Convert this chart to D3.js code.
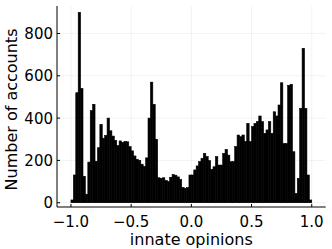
<!DOCTYPE html>
<html>
<head>
<meta charset="utf-8">
<script src="https://cdnjs.cloudflare.com/ajax/libs/d3/7.8.5/d3.min.js"></script>
<style>
body { margin: 0; background: #fff; }
text { font-family: "DejaVu Sans", sans-serif; fill: #000; }
</style>
</head>
<body>
<svg id="chart" width="332" height="249"></svg>
<script>
// histogram counts, 100 bins of width 0.02 from -1 to 1
var counts = [
	13, 131, 520, 900, 540, 125, 40, 192, 435, 465,
	196, 260, 370, 305, 318, 400, 340, 315, 295, 270,
	292, 285, 290, 288, 265, 245, 221, 205, 200, 182,
	172, 212, 400, 570, 465, 300, 118, 115, 118, 105,
	100, 120, 133, 130, 122, 110, 72, 68, 72, 131,
	131, 155, 174, 194, 210, 233, 218, 199, 158, 170,
	218, 178, 178, 233, 252, 225, 194, 194, 265, 320,
	312, 320, 289, 375, 289, 360, 375, 383, 410, 383,
	328, 344, 383, 328, 430, 410, 462, 567, 280, 280,
	555, 560, 241, 44, 115, 446, 730, 446, 131, 13
];
var binStart = -1.0;
var binWidth = 0.02;
var xTicks = [-1.0, -0.5, 0.0, 0.5, 1.0];
var yTicks = [0, 200, 400, 600, 800];
var xLabel = 'innate opinions';
var yLabel = 'Number of accounts';

var svg = d3.select('#chart');
// plot area (note: "top" is a read-only global, so use pl/pr/pt/pb)
var pl = 57, pr = 325.7, pt = 6, pb = 207;

var x = d3.scaleLinear().domain([-1.116, 1.116]).range([pl, pr]);
var y = d3.scaleLinear().domain([-20.3, 930]).range([pb, pt]);
var fmt = d3.format('.1f');

// grid
var grid = svg.append('g').attr('stroke', '#000').attr('stroke-opacity', 0.1).attr('stroke-width', 0.5);
grid.selectAll('.gx').data(xTicks).enter().append('line')
	.attr('x1', function(d){ return x(d); }).attr('x2', function(d){ return x(d); })
	.attr('y1', pt).attr('y2', pb);
grid.selectAll('.gy').data(yTicks).enter().append('line')
	.attr('x1', pl).attr('x2', pr)
	.attr('y1', function(d){ return y(d); }).attr('y2', function(d){ return y(d); });

// bars
svg.append('g').selectAll('rect').data(counts).enter().append('rect')
	.attr('x', function(d, i){ return x(binStart + i * binWidth); })
	.attr('width', function(d, i){ return x(binStart + (i + 1) * binWidth) - x(binStart + i * binWidth); })
	.attr('y', function(d){ return y(d); })
	.attr('height', function(d){ return y(0) - y(d); })
	.attr('fill', '#000')
	.attr('stroke', '#000')
	.attr('stroke-width', 0.6);

// axes
svg.append('line').attr('x1', pl).attr('x2', pr).attr('y1', pb).attr('y2', pb)
	.attr('stroke', '#000').attr('stroke-width', 1);
svg.append('line').attr('x1', pl).attr('x2', pl).attr('y1', pt).attr('y2', pb)
	.attr('stroke', '#000').attr('stroke-width', 1);

svg.append('g').selectAll('line').data(xTicks).enter().append('line')
	.attr('x1', function(d){ return x(d); }).attr('x2', function(d){ return x(d); })
	.attr('y1', pb).attr('y2', pb - 3)
	.attr('stroke', '#000').attr('stroke-width', 1);
svg.append('g').selectAll('line').data(yTicks).enter().append('line')
	.attr('x1', pl).attr('x2', pl + 3)
	.attr('y1', function(d){ return y(d); }).attr('y2', function(d){ return y(d); })
	.attr('stroke', '#000').attr('stroke-width', 1);

svg.append('g').selectAll('text').data(xTicks).enter().append('text')
	.attr('x', function(d){ return x(d); })
	.attr('y', 226.5)
	.attr('text-anchor', 'middle')
	.style('font-size', '15px')
	.text(function(d){ return fmt(d); });
svg.append('g').selectAll('text').data(yTicks).enter().append('text')
	.attr('x', 53)
	.attr('y', function(d){ return y(d); })
	.attr('dy', '0.36em')
	.attr('text-anchor', 'end')
	.style('font-size', '15px')
	.text(function(d){ return d; });

svg.append('text')
	.attr('x', (pl + pr) / 2)
	.attr('y', 245)
	.attr('text-anchor', 'middle')
	.style('font-size', '16px')
	.text(xLabel);
svg.append('text')
	.attr('transform', 'translate(16.5,109.5) rotate(-90)')
	.attr('text-anchor', 'middle')
	.style('font-size', '16px')
	.text(yLabel);
</script>
</body>
</html>
